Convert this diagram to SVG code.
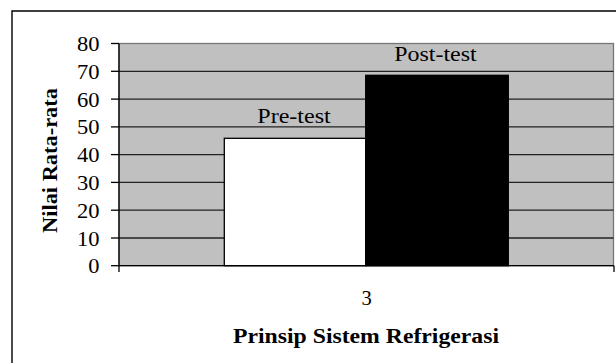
<svg xmlns="http://www.w3.org/2000/svg" width="616" height="363" viewBox="0 0 616 363">
<style>
  .lbl { font-family: "Liberation Serif", "Times New Roman", serif; fill: #000; }
  .num { font-size: 20.5px; text-anchor: end; }
  .grid { stroke: #222; stroke-width: 1.3; }
  .tick { stroke: #000; stroke-width: 1.3; }
  .bold { font-weight: bold; }
</style>
<rect width="616" height="363" fill="#fff"/>
<g id="frame">
  <path d="M12 363 V11 H616" fill="none" stroke="#000" stroke-width="1.4"/>
</g>
<g id="plot">
  <rect x="119" y="43.5" width="494.5" height="222.2" fill="#c0c0c0" stroke="#777" stroke-width="1.3"/>
  <g class="grid">
    <line x1="119" y1="71.3" x2="613.5" y2="71.3"/>
    <line x1="119" y1="99.1" x2="613.5" y2="99.1"/>
    <line x1="119" y1="126.9" x2="613.5" y2="126.9"/>
    <line x1="119" y1="154.6" x2="613.5" y2="154.6"/>
    <line x1="119" y1="182.4" x2="613.5" y2="182.4"/>
    <line x1="119" y1="210.2" x2="613.5" y2="210.2"/>
    <line x1="119" y1="238" x2="613.5" y2="238"/>
  </g>
</g>
<g id="bar-pre">
  <rect x="224.3" y="138.3" width="141.4" height="127.4" fill="#fff" stroke="#000" stroke-width="1.3"/>
  <text class="lbl" x="294" y="122.7" font-size="21.5" text-anchor="middle" textLength="73.5" lengthAdjust="spacingAndGlyphs">Pre-test</text>
</g>
<g id="bar-post">
  <rect x="365.7" y="75.3" width="142.6" height="190.4" fill="#000" stroke="#000" stroke-width="1.3"/>
  <text class="lbl" x="435.5" y="61" font-size="21.5" text-anchor="middle" textLength="82.4" lengthAdjust="spacingAndGlyphs">Post-test</text>
</g>
<g id="axes">
  <line x1="119" y1="43.5" x2="119" y2="272" class="tick" stroke-width="1.6"/>
  <line x1="119" y1="265.7" x2="614" y2="265.7" class="tick" stroke-width="1.6"/>
  <line x1="614" y1="265.7" x2="614" y2="272" class="tick"/>
  <g class="tick">
    <line x1="111" y1="43.5" x2="119" y2="43.5"/>
    <line x1="111" y1="71.3" x2="119" y2="71.3"/>
    <line x1="111" y1="99.1" x2="119" y2="99.1"/>
    <line x1="111" y1="126.9" x2="119" y2="126.9"/>
    <line x1="111" y1="154.6" x2="119" y2="154.6"/>
    <line x1="111" y1="182.4" x2="119" y2="182.4"/>
    <line x1="111" y1="210.2" x2="119" y2="210.2"/>
    <line x1="111" y1="238" x2="119" y2="238"/>
    <line x1="111" y1="265.7" x2="119" y2="265.7"/>
  </g>
  <g class="lbl num">
    <text x="99.5" y="51" textLength="22.5" lengthAdjust="spacingAndGlyphs">80</text>
    <text x="99.5" y="78.8" textLength="22.5" lengthAdjust="spacingAndGlyphs">70</text>
    <text x="99.5" y="106.6" textLength="22.5" lengthAdjust="spacingAndGlyphs">60</text>
    <text x="99.5" y="134.4" textLength="22.5" lengthAdjust="spacingAndGlyphs">50</text>
    <text x="99.5" y="162.1" textLength="22.5" lengthAdjust="spacingAndGlyphs">40</text>
    <text x="99.5" y="189.9" textLength="22.5" lengthAdjust="spacingAndGlyphs">30</text>
    <text x="99.5" y="217.7" textLength="22.5" lengthAdjust="spacingAndGlyphs">20</text>
    <text x="99.5" y="245.5" textLength="22.5" lengthAdjust="spacingAndGlyphs">10</text>
    <text x="99.5" y="273.2" textLength="11.2" lengthAdjust="spacingAndGlyphs">0</text>
  </g>
  <text class="lbl" x="366.5" y="305" font-size="20.5" text-anchor="middle">3</text>
  <text class="lbl bold" x="366" y="343" font-size="20.5" text-anchor="middle" textLength="266" lengthAdjust="spacingAndGlyphs">Prinsip Sistem Refrigerasi</text>
  <text class="lbl bold" transform="translate(57.3,160.5) rotate(-90)" x="0" y="0" font-size="21" text-anchor="middle" textLength="145" lengthAdjust="spacingAndGlyphs">Nilai Rata-rata</text>
</g>
</svg>
